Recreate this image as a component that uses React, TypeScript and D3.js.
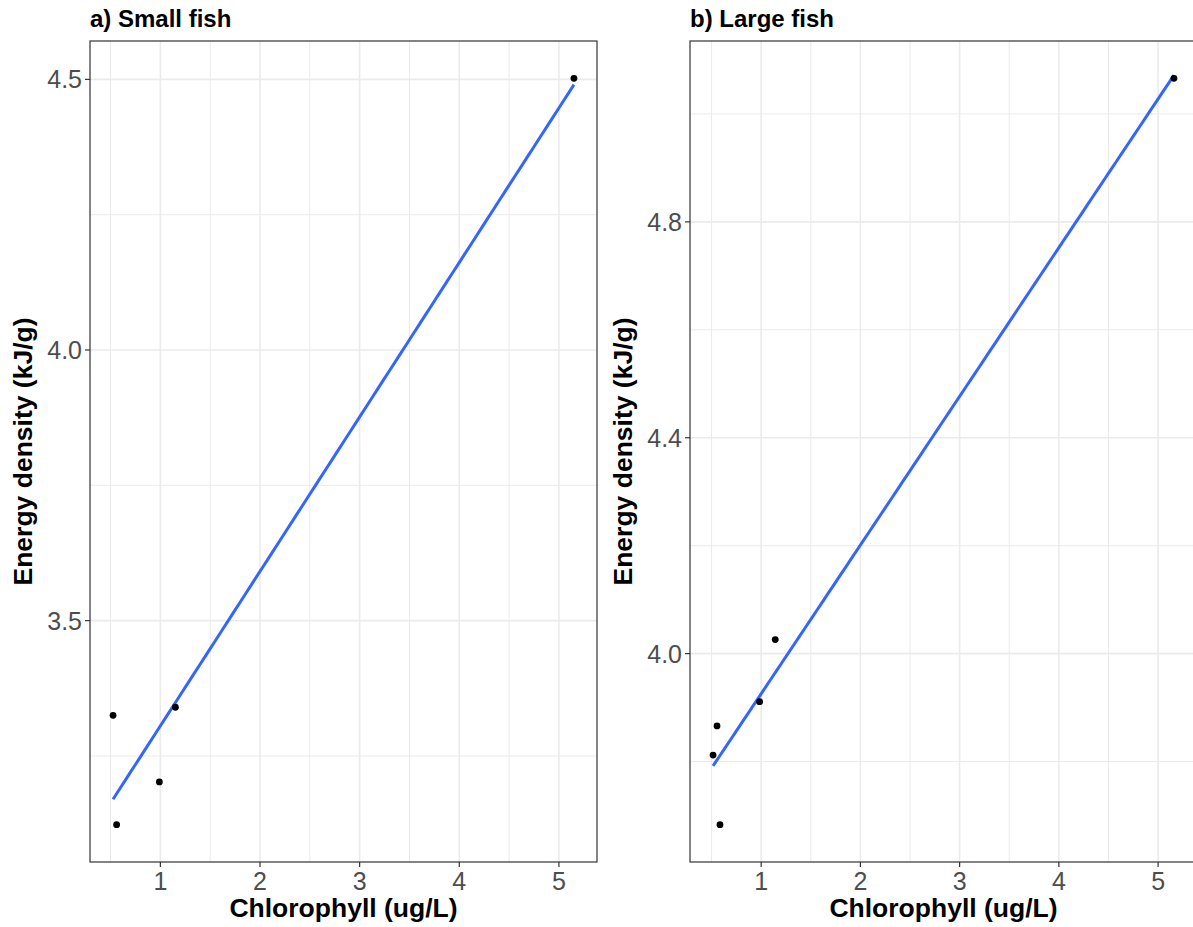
import React from "react";
import * as d3 from "d3";

// ---- Data ----
const smallChl = [0.525, 0.561, 0.99, 1.151, 5.151];
const smallEnergy = [3.325, 3.123, 3.202, 3.34, 4.502];
const largeChl = [0.515, 0.555, 0.585, 0.984, 1.142, 5.16];
const largeEnergy = [3.812, 3.866, 3.683, 3.911, 4.026, 5.066];

const xTicks = [1, 2, 3, 4, 5];
const smallYTicks = [3.5, 4.0, 4.5];
const largeYTicks = [4.0, 4.4, 4.8];

const panelTitles = ["a) Small fish", "b) Large fish"];
const xTitle = "Chlorophyll (ug/L)";
const yTitle = "Energy density (kJ/g)";

const FONT = "'Liberation Sans', Arial, Helvetica, sans-serif";

function expand(vals: number[]): [number, number] {
  const [lo, hi] = d3.extent(vals) as [number, number];
  const pad = (hi - lo) * 0.05;
  return [lo - pad, hi + pad];
}

function linreg(xs: number[], ys: number[]) {
  const mx = d3.mean(xs)!;
  const my = d3.mean(ys)!;
  let sxy = 0, sxx = 0;
  xs.forEach((x, i) => {
    sxy += (x - mx) * (ys[i] - my);
    sxx += (x - mx) * (x - mx);
  });
  const b = sxy / sxx;
  return { a: my - b * mx, b };
}

function minorTicks(major: number[], domain: [number, number]) {
  const step = major[1] - major[0];
  const out: number[] = [];
  const start = major[0] - step * 10;
  for (let i = 0; i < 40; i++) {
    const v = start + step / 2 + i * step;
    if (v > domain[0] && v < domain[1]) out.push(v);
  }
  return out;
}

interface PanelProps {
  left: number;
  title: string;
  xs: number[];
  ys: number[];
  yTicks: number[];
}

function Panel({ left, title, xs, ys, yTicks }: PanelProps) {
  const top = 41;
  const bottom = 862;
  const width = 507;
  const xDom = expand(xs);
  const yDom = expand(ys);
  const x = d3.scaleLinear().domain(xDom).range([left, left + width]);
  const y = d3.scaleLinear().domain(yDom).range([bottom, top]);
  const xMinor = minorTicks(xTicks, xDom);
  const yMinor = minorTicks(yTicks, yDom);
  const { a, b } = linreg(xs, ys);
  const [x0, x1] = d3.extent(xs) as [number, number];
  const fitPts = d3.range(0, 81).map((i) => x0 + ((x1 - x0) * i) / 80);
  const line = d3
    .line<number>()
    .x((d) => x(d))
    .y((d) => y(a + b * d));
  const grid = "#EBEBEB";
  const txt = "#4D4D4D";
  const cx = left + width / 2;
  const cy = (top + bottom) / 2;
  const fmtY = (v: number) => v.toFixed(1);
  return (
    <g>
      <text x={left} y={27} fontFamily={FONT} fontWeight="bold" fontSize={24} fill="#000">
        {title}
      </text>
      <rect x={left} y={top} width={width} height={bottom - top} fill="#fff" />
      {yMinor.map((v) => (
        <line key={"ym" + v} x1={left} x2={left + width} y1={y(v)} y2={y(v)} stroke={grid} strokeWidth={1} />
      ))}
      {xMinor.map((v) => (
        <line key={"xm" + v} y1={top} y2={bottom} x1={x(v)} x2={x(v)} stroke={grid} strokeWidth={1} />
      ))}
      {yTicks.map((v) => (
        <line key={"yM" + v} x1={left} x2={left + width} y1={y(v)} y2={y(v)} stroke={grid} strokeWidth={1.6} />
      ))}
      {xTicks.map((v) => (
        <line key={"xM" + v} y1={top} y2={bottom} x1={x(v)} x2={x(v)} stroke={grid} strokeWidth={1.6} />
      ))}
      <path d={line(fitPts) || ""} fill="none" stroke="#3366FF" strokeWidth={3} />
      {xs.map((v, i) => (
        <circle key={"p" + i} cx={x(v)} cy={y(ys[i])} r={3.4} fill="#000" />
      ))}
      <rect x={left} y={top} width={width} height={bottom - top} fill="none" stroke="#333333" strokeWidth={1.2} />
      {yTicks.map((v) => (
        <g key={"yt" + v}>
          <line x1={left - 5} x2={left} y1={y(v)} y2={y(v)} stroke="#333333" strokeWidth={1.2} />
          <text x={left - 8} y={y(v)} dy="0.36em" textAnchor="end" fontFamily={FONT} fontSize={25} fill={txt}>
            {fmtY(v)}
          </text>
        </g>
      ))}
      {xTicks.map((v) => (
        <g key={"xt" + v}>
          <line y1={bottom} y2={bottom + 5} x1={x(v)} x2={x(v)} stroke="#333333" strokeWidth={1.2} />
          <text x={x(v)} y={890} textAnchor="middle" fontFamily={FONT} fontSize={25} fill={txt}>
            {v}
          </text>
        </g>
      ))}
      <text x={cx} y={917} textAnchor="middle" fontFamily={FONT} fontWeight="bold" fontSize={26.5} fill="#000">
        {xTitle}
      </text>
      <text
        transform={`translate(${left - 58},${cy}) rotate(-90)`}
        textAnchor="middle"
        fontFamily={FONT}
        fontWeight="bold"
        fontSize={26.5}
        fill="#000"
      >
        {yTitle}
      </text>
    </g>
  );
}

export default function App() {
  return (
    <svg
      width={1193}
      height={927}
      style={{ position: "absolute", left: 0, top: 0, display: "block", background: "#fff" }}
    >
      <rect x={0} y={0} width={1193} height={927} fill="#fff" />
      <Panel left={90} title={panelTitles[0]} xs={smallChl} ys={smallEnergy} yTicks={smallYTicks} />
      <Panel left={690} title={panelTitles[1]} xs={largeChl} ys={largeEnergy} yTicks={largeYTicks} />
    </svg>
  );
}
